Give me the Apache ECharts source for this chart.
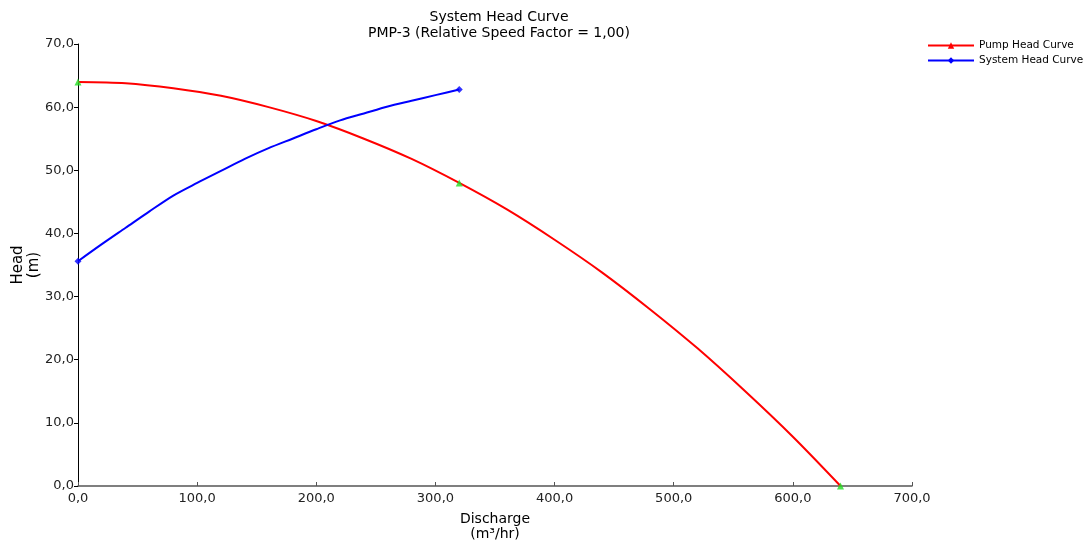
<!DOCTYPE html>
<html>
<head>
<meta charset="utf-8">
<script src="https://cdn.jsdelivr.net/npm/echarts@6/dist/echarts.min.js"></script>
<style>html,body{margin:0;padding:0;background:#fff}#c{width:1090px;height:540px}</style>
</head>
<body>
<div id="c"></div>
<script>
// Data
var pumpQ = [0, 40, 80, 120, 160, 200, 240, 280, 320, 360, 400, 440, 480, 520, 560, 600, 640];
var pumpH = [64.0, 63.8, 63.0, 61.8, 60.0, 57.8, 55.0, 51.8, 48.0, 43.8, 39.0, 33.8, 28.0, 21.8, 15.0, 7.8, 0.0];
var pumpDefQ = [0, 320, 640];
var pumpDefH = [64.0, 48.0, 0.0];
var sysQ = [0, 20, 40, 60, 80, 100, 120, 140, 160, 180, 200, 220, 240, 260, 280, 300, 320];
var sysH = [35.6, 38.3, 40.9, 43.5, 46.0, 48.0, 49.9, 51.8, 53.5, 55.0, 56.5, 57.9, 59.0, 60.1, 61.0, 61.9, 62.8];
var sysMarkQ = [0, 320];
var sysMarkH = [35.6, 62.8];

function zip(a, b) { return a.map(function (v, i) { return [v, b[i]]; }); }
function fmt(v) { return v.toFixed(1).replace('.', ','); }

var chart = echarts.init(document.getElementById('c'), null, {renderer: 'canvas'});
var font = 'DejaVu Sans, sans-serif';
chart.setOption({
  animation: false,
  backgroundColor: '#fff',
  title: {
    text: 'System Head Curve\nPMP-3 (Relative Speed Factor = 1,00)',
    left: 494, top: 4, textAlign: 'center',
    textStyle: {fontFamily: font, fontSize: 14, fontWeight: 'normal', color: '#000', lineHeight: 16}
  },
  legend: {
    orient: 'vertical', left: 922, top: 35, itemWidth: 46, itemHeight: 8, itemGap: 4,
    textStyle: {fontFamily: font, fontSize: 10.5, color: '#000'},
    data: ['Pump Head Curve', 'System Head Curve']
  },
  grid: {left: 78, right: 178, top: 44, bottom: 54, outerBoundsMode: 'none', containLabel: false},
  xAxis: {
    type: 'value', min: 0, max: 700, interval: 100,
    name: 'Discharge\n(m³/hr)', nameLocation: 'middle', nameGap: 26,
    nameTextStyle: {fontFamily: font, fontSize: 14, color: '#000', lineHeight: 15},
    axisLine: {lineStyle: {color: '#555', width: 1.5}},
    axisTick: {inside: true, length: 4, lineStyle: {color: '#555'}},
    splitLine: {show: false},
    axisLabel: {fontFamily: font, fontSize: 13, color: '#222', margin: 6, formatter: fmt}
  },
  yAxis: {
    type: 'value', min: 0, max: 70, interval: 10,
    name: 'Head\n(m)', nameLocation: 'middle', nameGap: 36, nameRotate: 90, nameMoveOverlap: false,
    nameTextStyle: {fontFamily: font, fontSize: 15, color: '#000', lineHeight: 16},
    axisLine: {show: true, lineStyle: {color: '#000', width: 1}},
    axisTick: {show: true, length: 4, lineStyle: {color: '#000'}},
    splitLine: {show: false},
    axisLabel: {fontFamily: font, fontSize: 13, color: '#222', margin: 4, formatter: fmt}
  },
  series: [
    {
      name: 'Pump Head Curve', type: 'line', data: zip(pumpQ, pumpH), smooth: 0.3,
      showSymbol: false, symbol: 'triangle', symbolSize: 8,
      lineStyle: {color: '#ff0000', width: 2}, itemStyle: {color: '#ff0000'}
    },
    {
      name: 'System Head Curve', type: 'line', data: zip(sysQ, sysH), smooth: 0.3,
      showSymbol: false, symbol: 'diamond', symbolSize: 8,
      lineStyle: {color: '#0000ff', width: 2}, itemStyle: {color: '#0000ff'}
    },
    {
      type: 'scatter', data: zip(sysMarkQ, sysMarkH), symbol: 'diamond', symbolSize: 7,
      itemStyle: {color: '#0000ff'}, z: 3
    },
    {
      type: 'scatter', data: zip(pumpDefQ, pumpDefH), symbol: 'triangle', symbolSize: 7,
      itemStyle: {color: '#22dd22'}, z: 4
    }
  ]
});
</script>
</body>
</html>
